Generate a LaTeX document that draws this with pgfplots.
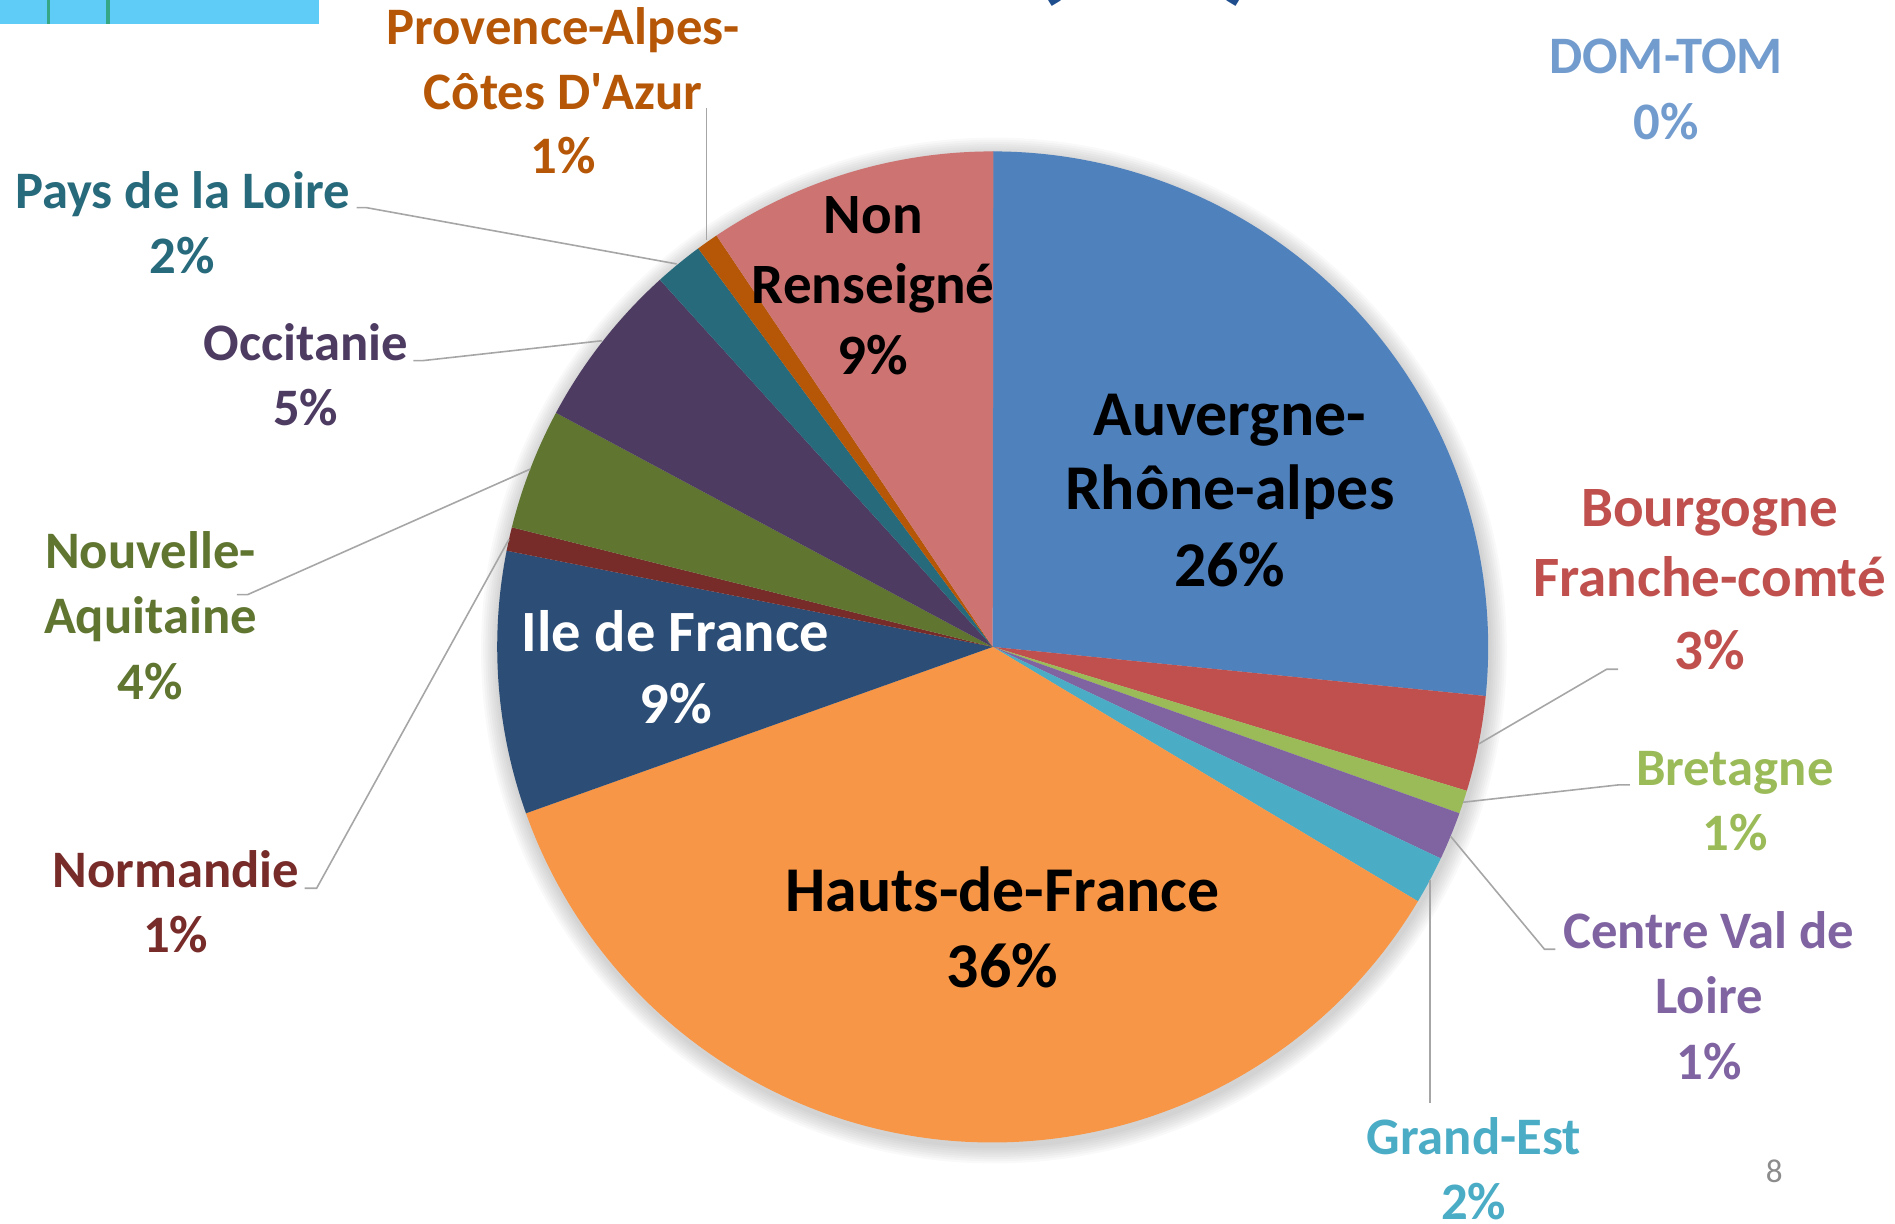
\documentclass[border=0pt]{standalone}
\usepackage{pgfplots}
\pgfplotsset{compat=1.18}
\usepackage{fontspec}
\setmainfont{Carlito}
\definecolor{cAuv}{HTML}{4F81BD}
\definecolor{cBou}{HTML}{C0504D}
\definecolor{cBre}{HTML}{9BBB59}
\definecolor{cCen}{HTML}{8064A2}
\definecolor{cGE}{HTML}{4BACC6}
\definecolor{cHdF}{HTML}{F79646}
\definecolor{cIdF}{HTML}{2C4D75}
\definecolor{cNor}{HTML}{772C2A}
\definecolor{cNA}{HTML}{5F7530}
\definecolor{cOcc}{HTML}{4D3B62}
\definecolor{cPdL}{HTML}{276A7C}
\definecolor{cPACA}{HTML}{B65708}
\definecolor{cNR}{HTML}{CD7372}
\definecolor{cDOM}{HTML}{739CCE}
\definecolor{leadc}{HTML}{A6A6A6}
\definecolor{barblue}{HTML}{5FCBF7}
\definecolor{bargreen}{HTML}{2A9D6A}
\definecolor{titleblue}{HTML}{1F4E8F}
% label: x, baseline y (image coords), size, colour, text
\newcommand\lab[5]{\node[anchor=base,inner sep=0pt,text=#4,font=\fontsize{#3}{#3}\selectfont\bfseries] at (axis cs:#1,#2) {#5};}
\newcommand\apos{{\addfontfeatures{Ligatures=TeXOff}'}}
\begin{document}
\begin{tikzpicture}
\begin{axis}[x=0.25pt,y=0.25pt,xmin=0,xmax=1568,ymin=0,ymax=1012,y dir=reverse,
  hide axis,clip=false,scale only axis]
% decoration pieces at the top
\fill[barblue] (axis cs:0,0) rectangle (axis cs:264,20);
\fill[bargreen!80!barblue] (axis cs:38.5,0) rectangle (axis cs:41.5,20);
\fill[bargreen!80!barblue] (axis cs:88,0) rectangle (axis cs:91,20);
\node[anchor=base,inner sep=0pt,text=titleblue,font=\fontsize{30}{30}\selectfont\bfseries] at (axis cs:866,-13) {(};
\node[anchor=base,inner sep=0pt,text=titleblue,font=\fontsize{30}{30}\selectfont\bfseries] at (axis cs:1027,-13) {)};
% pie (values in percent, clockwise from 12 o'clock)
\pgfplotsextra{%
  \foreach \i in {1,...,8}{\fill[black,opacity=0.022] (axis cs:822.4,538.3) circle[radius={102.5pt+\i*0.45pt}];}%
  \xdef\cumul{90}%
  \foreach \v/\c in {26.58/cAuv,3.11/cBou,0.76/cBre,1.57/cCen,1.56/cGE,35.97/cHdF,8.56/cIdF,0.77/cNor,3.95/cNA,5.45/cOcc,1.59/cPdL,0.72/cPACA,9.43/cNR,0/cDOM}{%
    \pgfmathsetmacro\endang{\cumul-3.6*\v}%
    \fill[\c] (axis cs:821.4,535.3) -- ++(\cumul:102.5pt) arc[start angle=\cumul,end angle=\endang,radius=102.5pt] -- cycle;
    \xdef\cumul{\endang}%
  }%
}
% leader lines
\begin{scope}[leadc,line width=0.33pt]
\draw (axis cs:584.7,89.6) -- (axis cs:584.7,199);
\draw (axis cs:295,171.8) -- (axis cs:303,171.8) -- (axis cs:559.9,218.4);
\draw (axis cs:342,298.4) -- (axis cs:350,298.4) -- (axis cs:498,282);
\draw (axis cs:196,492) -- (axis cs:205,492) -- (axis cs:438.7,388.2);
\draw (axis cs:252,735) -- (axis cs:262,735) -- (axis cs:421.2,446.2);
\draw (axis cs:1339,553.8) -- (axis cs:1329.4,553.8) -- (axis cs:1223.5,615.6);
\draw (axis cs:1348.7,649.5) -- (axis cs:1339,649.5) -- (axis cs:1210.7,663.8);
\draw (axis cs:1200.2,691.9) -- (axis cs:1278,785.5) -- (axis cs:1287,785.5);
\draw (axis cs:1183.1,728.3) -- (axis cs:1183.1,913);
\end{scope}
% outside labels
\lab{466}{37.2}{10.9}{cPACA}{Provence-Alpes-}
\lab{466}{90.5}{10.9}{cPACA}{Côtes D\apos Azur}
\lab{466}{143.5}{10.9}{cPACA}{1\%}
\lab{1378.5}{61.2}{10.9}{cDOM}{DOM-TOM}
\lab{1378.5}{115.3}{10.9}{cDOM}{0\%}
\lab{151}{172.4}{10.9}{cPdL}{Pays de la Loire}
\lab{151}{226.2}{10.9}{cPdL}{2\%}
\lab{253}{298.4}{10.9}{cOcc}{Occitanie}
\lab{253}{352.5}{10.9}{cOcc}{5\%}
\lab{124.5}{470.5}{10.9}{cNA}{Nouvelle-}
\lab{124.5}{524.5}{10.9}{cNA}{Aquitaine}
\lab{124.5}{578.5}{10.9}{cNA}{4\%}
\lab{145.5}{734}{10.9}{cNor}{Normandie}
\lab{145.5}{788}{10.9}{cNor}{1\%}
\lab{1414.5}{435.8}{11.8}{cBou}{Bourgogne}
\lab{1414.5}{493.7}{11.8}{cBou}{Franche-comté}
\lab{1414.5}{553.8}{11.8}{cBou}{3\%}
\lab{1435.5}{650}{10.9}{cBre}{Bretagne}
\lab{1435.5}{704}{10.9}{cBre}{1\%}
\lab{1414}{785}{10.9}{cCen}{Centre Val de}
\lab{1414}{839}{10.9}{cCen}{Loire}
\lab{1414}{893}{10.9}{cCen}{1\%}
\lab{1219.5}{955}{10.9}{cGE}{Grand-Est}
\lab{1219.5}{1009}{10.9}{cGE}{2\%}
% inside labels
\lab{722.5}{193}{11.8}{black}{Non}
\lab{722.5}{251.5}{11.8}{black}{Renseigné}
\lab{722.5}{310.3}{11.8}{black}{9\%}
\lab{1017.5}{360}{13.2}{black}{Auvergne-}
\lab{1017.5}{422}{13.2}{black}{Rhône-alpes}
\lab{1017.5}{485}{13.2}{black}{26\%}
\lab{559}{539.5}{12.1}{white}{Ile de France}
\lab{559}{598.5}{12.1}{white}{9\%}
\lab{829.5}{754}{13.2}{black}{Hauts-de-France}
\lab{829.5}{817}{13.2}{black}{36\%}
% page number
\node[anchor=base,inner sep=0pt,text=black!45,font=\fontsize{6.85}{6.85}\selectfont] at (axis cs:1468,978.6) {8};
\end{axis}
\pgfresetboundingbox
\path[use as bounding box] (0,0) rectangle (392pt,253pt);
\end{tikzpicture}
\end{document}
